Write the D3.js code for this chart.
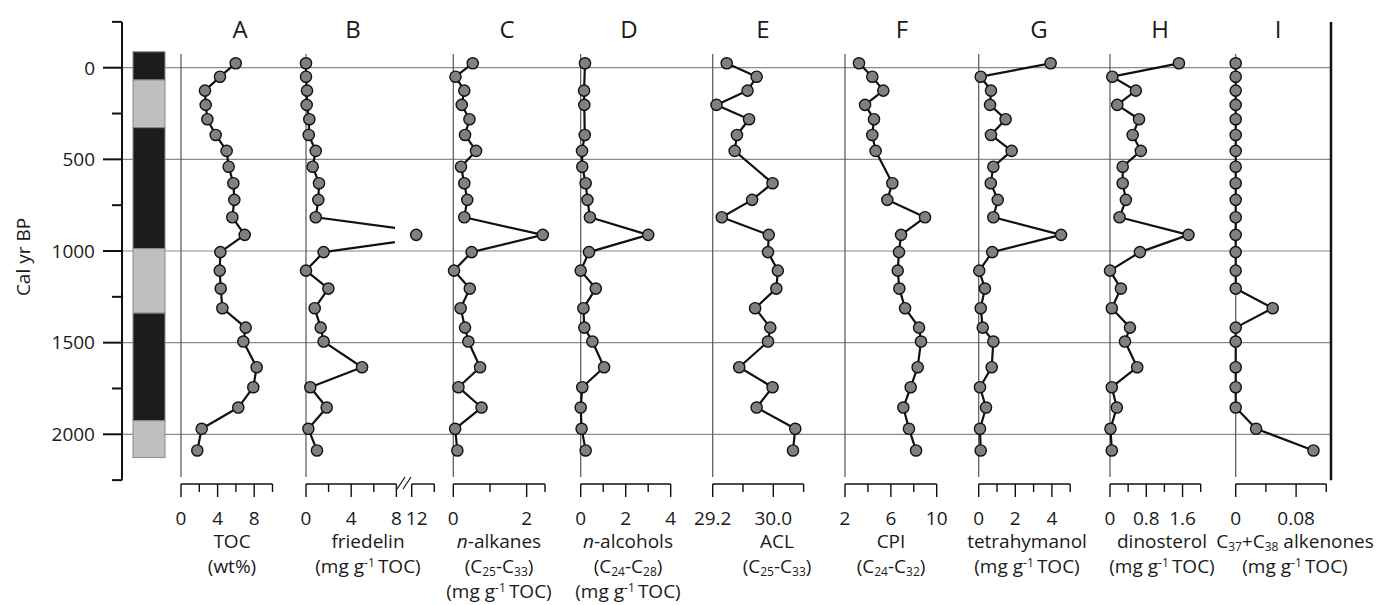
<!DOCTYPE html>
<html lang="en">
<head>
<meta charset="UTF-8">
<title>Biomarker profiles</title>
<script src="https://d3js.org/d3.v7.min.js"></script>
<style>
  body { margin: 0; background: #fff; }
  svg text { font-family: "Open Sans", "Noto Sans", sans-serif; fill: #1a1a1a; }
</style>
</head>
<body>
<svg id="chart" width="1377" height="605"></svg>
<script>
// sample ages (cal yr BP)
const ages = [-24, 49, 125, 203, 281, 367, 454, 540, 630, 721, 816, 912, 1006, 1107, 1205, 1312, 1418, 1494, 1634, 1743, 1854, 1970, 2088];

const toc = [5.98, 4.26, 2.62, 2.70, 2.88, 3.79, 4.99, 5.21, 5.72, 5.83, 5.61, 6.96, 4.30, 4.23, 4.34, 4.52, 7.07, 6.81, 8.27, 7.90, 6.26, 2.26, 1.78];
const friedelin = [0.0, 0.0, 0.09, 0.06, 0.29, 0.24, 0.86, 0.59, 1.15, 1.09, 0.86, 12.4, 1.56, 0.0, 1.98, 0.77, 1.30, 1.56, 4.96, 0.38, 1.83, 0.21, 0.97];
const nAlkanes = [0.53, 0.06, 0.30, 0.23, 0.44, 0.32, 0.62, 0.21, 0.30, 0.38, 0.30, 2.44, 0.50, 0.02, 0.45, 0.20, 0.32, 0.41, 0.73, 0.14, 0.77, 0.05, 0.11];
const nAlcohols = [0.19, null, 0.15, 0.16, null, 0.18, 0.06, 0.07, 0.22, 0.30, 0.41, 3.0, 0.37, 0.0, 0.67, 0.12, 0.16, 0.52, 1.04, 0.07, 0.0, 0.04, 0.22];
const acl = [29.385, 29.78, 29.66, 29.25, 29.68, 29.52, 29.49, null, 29.99, 29.72, 29.32, 29.94, 29.93, 30.06, 30.04, 29.76, 29.96, 29.93, 29.55, 29.99, 29.78, 30.29, 30.26];
const cpi = [3.22, 4.38, 5.34, 3.75, 4.53, 4.38, 4.67, null, 6.13, 5.69, 8.98, 6.89, 6.71, 6.60, 6.74, 7.24, 8.46, 8.63, 8.34, 7.73, 7.09, 7.58, 8.20];
const tetrahymanol = [3.93, 0.11, 0.67, 0.62, 1.47, 0.67, 1.80, 0.80, 0.66, 1.04, 0.80, 4.50, 0.74, 0.03, 0.34, 0.11, 0.22, 0.80, 0.71, 0.07, 0.40, 0.07, 0.11];
const dinosterol = [1.52, 0.05, 0.57, 0.16, 0.64, 0.50, 0.68, 0.28, 0.28, 0.35, 0.21, 1.73, 0.66, 0.0, 0.24, 0.04, 0.44, 0.33, 0.60, 0.04, 0.15, 0.01, 0.04];
const alkenones = [0, 0, 0, 0, 0, 0, 0, 0, 0, 0, 0, 0, 0, 0, 0, 0.049, 0, 0, 0, 0, 0, 0.027, 0.103];

// lithology units: [top, bottom, dark?]
const lithoTops = [-87, 67, 327, 987, 1339, 1926];
const lithoBottoms = [67, 327, 987, 1339, 1926, 2127];
const lithoDark = [true, false, true, false, true, false];

const yTicks = [0, 500, 1000, 1500, 2000];
const yMinorTicks = [-250, 250, 750, 1250, 1750, 2250];

const svg = d3.select("#chart");
const y = d3.scaleLinear().domain([0, 2000]).range([67.7, 434.3]);
const xLeft = 122, xRight = 1331;
const axisY = 484;

// panel layout
const panels = [
  { letter: "A", values: toc, domain: [0, 10], range: [181, 272.5], ticks: [0, 2, 4, 6, 8, 10], labels: [0, 4, 8],
    fmt: d3.format("d"), letterX: 240, titleX: 232,
    title: [[["TOC"]], [["(wt%)"]]] },
  { letter: "B", values: friedelin, domain: [0, 8], range: [306, 396.4], ticks: [0, 2, 4, 6, 8], labels: [0, 4, 8],
    fmt: d3.format("d"), letterX: 353, titleX: 368, broken: { domain: [12, 14], range: [411.7, 434.3], ticks: [12, 14], labels: [12] },
    title: [[["friedelin"]], "mg"] },
  { letter: "C", values: nAlkanes, domain: [0, 2.5], range: [453.3, 545], ticks: [0, 1, 2, 2.5], labels: [0, 2],
    fmt: d3.format("d"), letterX: 507, titleX: 499,
    title: [[["n", "it"], ["-alkanes"]], [["(C"], ["25", "sub"], ["-C"], ["33", "sub"], [")"]], "mg"] },
  { letter: "D", values: nAlcohols, domain: [0, 4], range: [580.7, 670.7], ticks: [0, 1, 2, 3, 4], labels: [0, 2, 4],
    fmt: d3.format("d"), letterX: 629, titleX: 628,
    title: [[["n", "it"], ["-alcohols"]], [["(C"], ["24", "sub"], ["-C"], ["28", "sub"], [")"]], "mg"] },
  { letter: "E", values: acl, domain: [29.2, 30.4], range: [712.7, 803.6], ticks: [29.2, 29.6, 30.0, 30.4], labels: [29.2, 30.0],
    fmt: d3.format(".1f"), letterX: 763, titleX: 777,
    title: [[["ACL"]], [["(C"], ["25", "sub"], ["-C"], ["33", "sub"], [")"]]] },
  { letter: "F", values: cpi, domain: [2, 10], range: [845, 936.7], ticks: [2, 4, 6, 8, 10], labels: [2, 6, 10],
    fmt: d3.format("d"), letterX: 902, titleX: 891,
    title: [[["CPI"]], [["(C"], ["24", "sub"], ["-C"], ["32", "sub"], [")"]]] },
  { letter: "G", values: tetrahymanol, domain: [0, 5], range: [978.7, 1070.2], ticks: [0, 1, 2, 3, 4, 5], labels: [0, 2, 4],
    fmt: d3.format("d"), letterX: 1039, titleX: 1027,
    title: [[["tetrahymanol"]], "mg"] },
  { letter: "H", values: dinosterol, domain: [0, 2], range: [1110, 1200.7], ticks: [0, 0.4, 0.8, 1.2, 1.6, 2.0], labels: [0, 0.8, 1.6],
    fmt: d => d === 0 ? "0" : d3.format(".1f")(d), letterX: 1160, titleX: 1162,
    title: [[["dinosterol"]], "mg"] },
  { letter: "I", values: alkenones, domain: [0, 0.12], range: [1235.7, 1326.3], ticks: [0, 0.04, 0.08, 0.12], labels: [0, 0.08],
    fmt: d => d === 0 ? "0" : d3.format(".2f")(d), letterX: 1278, titleX: 1295,
    title: [[["C"], ["37", "sub"], ["+C"], ["38", "sub"], [" alkenones"]], "mg"] }
];
const mgLine = [["(mg g"], ["-1", "sup"], ["\u2009TOC)"]];

// horizontal grid lines
svg.append("g").selectAll("line")
  .data(yTicks).join("line")
  .attr("x1", xLeft).attr("x2", xRight)
  .attr("y1", d => y(d)).attr("y2", d => y(d))
  .attr("stroke", "#8a8a8a").attr("stroke-width", 1.2);

// left depth axis
const yAxisG = svg.append("g");
yAxisG.append("line")
  .attr("x1", xLeft).attr("x2", xLeft)
  .attr("y1", y(-250)).attr("y2", y(2250))
  .attr("stroke", "#111").attr("stroke-width", 2);
yAxisG.selectAll(".maj").data(yTicks).join("line")
  .attr("x1", xLeft - 19).attr("x2", xLeft)
  .attr("y1", d => y(d)).attr("y2", d => y(d))
  .attr("stroke", "#111").attr("stroke-width", 2);
yAxisG.selectAll(".min").data(yMinorTicks).join("line")
  .attr("x1", xLeft - 10).attr("x2", xLeft)
  .attr("y1", d => y(d)).attr("y2", d => y(d))
  .attr("stroke", "#111").attr("stroke-width", 2);
yAxisG.selectAll("text").data(yTicks).join("text")
  .attr("x", 95).attr("y", d => y(d)).attr("dy", "0.36em")
  .attr("text-anchor", "end").attr("font-size", 19)
  .text(d => d);
svg.append("text")
  .attr("transform", "translate(30,257) rotate(-90)")
  .attr("text-anchor", "middle").attr("font-size", 19)
  .text("Cal yr BP");

// right border
svg.append("line")
  .attr("x1", xRight).attr("x2", xRight)
  .attr("y1", y(-250)).attr("y2", y(2250))
  .attr("stroke", "#111").attr("stroke-width", 2.5);

// lithology column
svg.append("g").selectAll("rect")
  .data(lithoTops).join("rect")
  .attr("x", 133).attr("width", 32)
  .attr("y", d => y(d))
  .attr("height", (d, i) => y(lithoBottoms[i]) - y(d))
  .attr("fill", (d, i) => lithoDark[i] ? "#1c1c1c" : "#bfbfbf")
  .attr("stroke", "#8a8a8a").attr("stroke-width", 1);

function richText(sel, parts) {
  let shift = 0;
  parts.forEach(([t, kind]) => {
    const ts = sel.append("tspan").text(t);
    let target = 0;
    if (kind === "sub") { ts.attr("font-size", 12); target = 3; }
    if (kind === "sup") { ts.attr("font-size", 12); target = -6; }
    if (kind === "it") ts.attr("font-style", "italic");
    if (target !== shift) { ts.attr("dy", target - shift); shift = target; }
  });
}

const defs = svg.append("defs");

panels.forEach((p, pi) => {
  const x = d3.scaleLinear().domain(p.domain).range(p.range);
  const g = svg.append("g");

  // zero line of panel
  g.append("line")
    .attr("x1", p.range[0]).attr("x2", p.range[0])
    .attr("y1", 54).attr("y2", 477)
    .attr("stroke", "#555").attr("stroke-width", 1.2);

  // bottom axis
  const drawAxis = (sc, ticks, labels) => {
    const r = sc.range();
    g.append("line").attr("x1", r[0]).attr("x2", r[1])
      .attr("y1", axisY).attr("y2", axisY)
      .attr("stroke", "#111").attr("stroke-width", 1.4);
    g.selectAll(null).data(ticks).join("line")
      .attr("x1", d => sc(d)).attr("x2", d => sc(d))
      .attr("y1", axisY).attr("y2", d => axisY + (labels.includes(d) ? 13 : 8))
      .attr("stroke", "#111").attr("stroke-width", 1.4);
  };
  drawAxis(x, p.ticks, p.labels);
  g.selectAll(null).data(p.labels).join("text")
    .attr("x", d => x(d)).attr("y", 525)
    .attr("text-anchor", "middle").attr("font-size", 19)
    .text(p.fmt);

  let xb = null;
  if (p.broken) {
    xb = d3.scaleLinear().domain(p.broken.domain).range(p.broken.range);
    drawAxis(xb, p.broken.ticks, p.broken.labels);
    g.selectAll(null).data(p.broken.labels).join("text")
      .attr("x", d => xb(d) + 5).attr("y", 525)
      .attr("text-anchor", "middle").attr("font-size", 19)
      .text(p.fmt);
    // break marks
    const bx = (p.range[1] + p.broken.range[0]) / 2;
    [-3, 3].forEach(o => {
      g.append("line")
        .attr("x1", bx + o - 4).attr("x2", bx + o + 4)
        .attr("y1", axisY + 5).attr("y2", axisY - 7)
        .attr("stroke", "#111").attr("stroke-width", 1.2);
    });
  }

  // letter
  g.append("text").attr("x", p.letterX).attr("y", 38)
    .attr("text-anchor", "middle").attr("font-size", 24)
    .text(p.letter);

  // titles
  p.title.forEach((line, li) => {
    const parts = line === "mg" ? mgLine : line;
    const t = g.append("text").attr("x", p.titleX).attr("y", 548 + li * 25)
      .attr("text-anchor", "middle").attr("font-size", 19);
    richText(t, parts);
  });

  // data
  const pts = ages.map((a, i) => ({ a, v: p.values[i] })).filter(d => d.v !== null);
  const line = d3.line().x(d => x(d.v)).y(d => y(d.a));
  const path = g.append("path").datum(pts)
    .attr("d", line)
    .attr("fill", "none").attr("stroke", "#111").attr("stroke-width", 2.2)
    .attr("stroke-linejoin", "round");
  if (p.broken) {
    const cid = "clip" + pi;
    defs.append("clipPath").attr("id", cid)
      .append("rect").attr("x", 0).attr("y", 0)
      .attr("width", p.range[1] - 1.5).attr("height", 605);
    path.attr("clip-path", `url(#${cid})`);
  }
  g.selectAll("circle").data(pts).join("circle")
    .attr("cx", d => (xb && d.v > p.domain[1]) ? xb(d.v) : x(d.v))
    .attr("cy", d => y(d.a))
    .attr("r", 5.6)
    .attr("fill", "#808080").attr("stroke", "#111").attr("stroke-width", 1.4);
});
</script>
</body>
</html>
